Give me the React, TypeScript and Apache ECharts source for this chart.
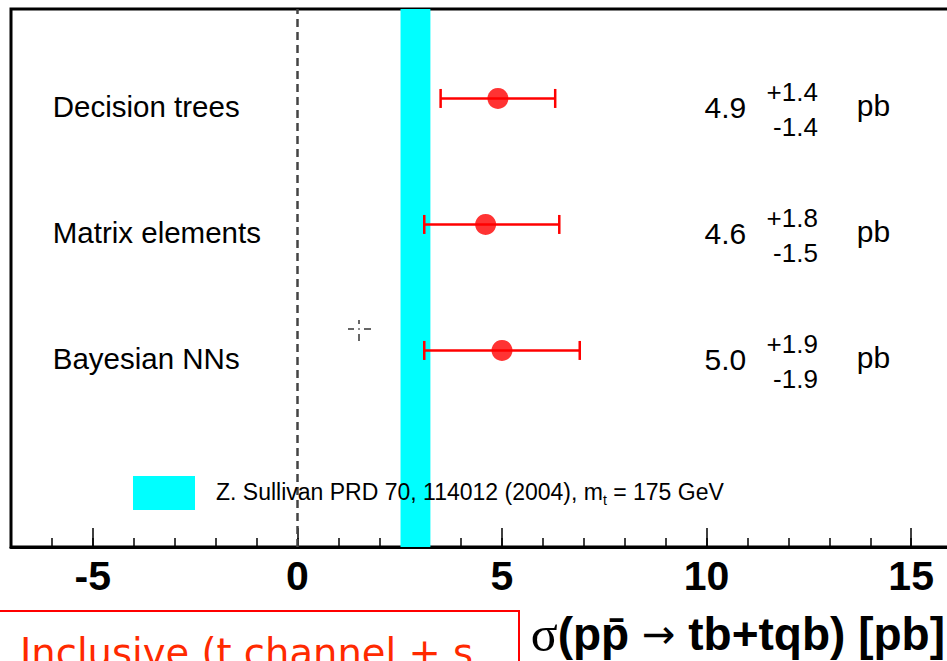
import React, { useEffect, useRef } from 'react';
import * as echarts from 'echarts';

// ---- data ----
const methods = ['Decision trees', 'Matrix elements', 'Bayesian NNs'];
const centralValues = [4.9, 4.6, 5.0];
const errorsUp = [1.4, 1.8, 1.9];
const errorsDown = [1.4, 1.5, 1.9];
const rowPositions = [3.56, 2.56, 1.56];
const theoryBand = [2.52, 3.25];
const majorTickValues = [-5, 0, 5, 10, 15];
const minorTickValues = [-7, -6, -5, -4, -3, -2, -1, 0, 1, 2, 3, 4, 5, 6, 7, 8, 9, 10, 11, 12, 13, 14, 15, 16, 17];
const xRange = [-7, 17];
const yRange = [0, 4.27];
const legendLabel = 'Z. Sullivan PRD 70, 114012 (2004), m';
const legendSub = 't';
const legendTail = ' = 175 GeV';
const unitLabel = 'pb';
const noteText = 'Inclusive (t channel + s';

const SANS = '"Liberation Sans", Arial, Helvetica, sans-serif';

const fmt = (v: number) => v.toFixed(1);

export default function App() {
  const ref = useRef<HTMLDivElement>(null);

  useEffect(() => {
    if (!ref.current) return;
    const chart = echarts.init(ref.current, undefined, { renderer: 'svg' });

    const errData = centralValues.map((c, i) => [c - errorsDown[i], c + errorsUp[i], rowPositions[i]]);
    const pointData = centralValues.map((c, i) => [c, rowPositions[i]]);
    const labelData = rowPositions.map((y, i) => [0, y, i]);

    const option: any = {
      animation: false,
      grid: {
        left: 11, top: 9, right: 7, bottom: 114,
        show: true, borderColor: '#000', borderWidth: 3, backgroundColor: 'transparent',
      },
      xAxis: [
        {
          type: 'value', min: xRange[0], max: xRange[1], position: 'bottom',
          axisLine: { show: true, onZero: false, lineStyle: { color: '#000', width: 3 } },
          axisTick: { show: true, inside: true, length: 19, customValues: majorTickValues, lineStyle: { color: '#000', width: 1.5 } },
          axisLabel: {
            show: true, customValues: majorTickValues, fontSize: 41, fontWeight: 'bold',
            color: '#000', fontFamily: SANS, margin: 8,
          },
          splitLine: { show: false },
        },
        {
          type: 'value', min: xRange[0], max: xRange[1], position: 'bottom',
          axisLine: { show: false, onZero: false },
          axisTick: { show: true, inside: true, length: 9, customValues: minorTickValues, lineStyle: { color: '#000', width: 1.5 } },
          axisLabel: { show: false },
          splitLine: { show: false },
        },
      ],
      yAxis: {
        type: 'value', min: yRange[0], max: yRange[1],
        axisLine: { show: false }, axisTick: { show: false }, axisLabel: { show: false }, splitLine: { show: false },
      },
      series: [
        {
          type: 'custom',
          name: 'band',
          xAxisIndex: 0,
          z: 1,
          silent: true,
          encode: { x: [0, 1] },
          data: [[theoryBand[0], theoryBand[1]]],
          renderItem: (params: any, api: any) => {
            const p1 = api.coord([api.value(0), yRange[1]]);
            const p2 = api.coord([api.value(1), yRange[0]]);
            return {
              type: 'rect',
              shape: { x: p1[0], y: p1[1], width: p2[0] - p1[0], height: p2[1] - p1[1] },
              style: { fill: '#00ffff' },
            };
          },
          markLine: {
            silent: true,
            symbol: 'none',
            label: { show: false },
            lineStyle: { type: [8, 5], color: '#444', width: 2.5 },
            data: [{ xAxis: 0 }],
          },
        },
        {
          type: 'custom',
          name: 'errors',
          xAxisIndex: 0,
          z: 3,
          silent: true,
          encode: { x: [0, 1], y: 2 },
          data: errData,
          renderItem: (params: any, api: any) => {
            const a = api.coord([api.value(0), api.value(2)]);
            const b = api.coord([api.value(1), api.value(2)]);
            const h = 9.5;
            const st = { stroke: '#ff0000', lineWidth: 2.5 };
            return {
              type: 'group',
              children: [
                { type: 'line', shape: { x1: a[0], y1: a[1], x2: b[0], y2: b[1] }, style: st },
                { type: 'line', shape: { x1: a[0], y1: a[1] - h, x2: a[0], y2: a[1] + h }, style: st },
                { type: 'line', shape: { x1: b[0], y1: b[1] - h, x2: b[0], y2: b[1] + h }, style: st },
              ],
            };
          },
        },
        {
          type: 'scatter',
          name: 'points',
          z: 4,
          silent: true,
          symbol: 'circle',
          symbolSize: 21,
          itemStyle: { color: '#ff0000' },
          data: pointData,
        },
        {
          type: 'custom',
          name: 'labels',
          z: 5,
          silent: true,
          encode: { y: 1 },
          data: labelData,
          renderItem: (params: any, api: any) => {
            const y = api.value(1);
            const i = api.value(2);
            const nameP = api.coord([-5.98, y]);
            const valP = api.coord([10.97, y]);
            const errP = api.coord([12.72, y]);
            const unitP = api.coord([13.67, y]);
            const base = { fill: '#000', fontFamily: SANS };
            return {
              type: 'group',
              children: [
                { type: 'text', x: nameP[0], y: nameP[1] + 8, style: { ...base, text: methods[i], fontSize: 29.5, align: 'left', verticalAlign: 'middle' } },
                { type: 'text', x: valP[0], y: valP[1] + 9, style: { ...base, text: fmt(centralValues[i]), fontSize: 30, align: 'right', verticalAlign: 'middle' } },
                { type: 'text', x: errP[0], y: errP[1] - 6, style: { ...base, text: '+' + fmt(errorsUp[i]), fontSize: 26, align: 'right', verticalAlign: 'middle' } },
                { type: 'text', x: errP[0], y: errP[1] + 29, style: { ...base, text: '-' + fmt(errorsDown[i]), fontSize: 26, align: 'right', verticalAlign: 'middle' } },
                { type: 'text', x: unitP[0], y: unitP[1] + 7, style: { ...base, text: unitLabel, fontSize: 30, align: 'left', verticalAlign: 'middle' } },
              ],
            };
          },
        },
      ],
      graphic: [
        { type: 'rect', z: 10, shape: { x: 133, y: 476, width: 62, height: 34 }, style: { fill: '#00ffff' } },
        {
          type: 'text', z: 10, x: 216, y: 492,
          style: {
            text: '{a|' + legendLabel + '}{s|' + legendSub + '}{a|' + legendTail + '}',
            align: 'left', verticalAlign: 'middle',
            rich: {
              a: { fontSize: 23, fontFamily: SANS, fill: '#000', lineHeight: 30, verticalAlign: 'middle' },
              s: { fontSize: 14, fontFamily: SANS, fill: '#000', lineHeight: 14, verticalAlign: 'bottom' },
            },
          },
        },
        {
          type: 'text', z: 10, x: 945, y: 634,
          style: {
            text: '{s|σ}{b|(pp\u0304 }{r|→}{b| tb+tqb) [pb]}',
            align: 'right', verticalAlign: 'middle',
            rich: {
              s: { fontSize: 50, fontFamily: '"Liberation Serif", "DejaVu Serif", serif', fill: '#000', lineHeight: 54 },
              b: { fontSize: 46, fontWeight: 'bold', fontFamily: SANS, fill: '#000', lineHeight: 54 },
              r: { fontSize: 40, fontFamily: '"DejaVu Sans", sans-serif', fill: '#000', lineHeight: 54 },
            },
          },
        },
        { type: 'rect', z: 10, shape: { x: -2, y: 611, width: 521, height: 100 }, style: { fill: 'none', stroke: '#ff0000', lineWidth: 2 } },
        {
          type: 'text', z: 10, x: 20, y: 652,
          style: { text: noteText, fontSize: 38.5, fontFamily: '"DejaVu Sans", sans-serif', fill: '#ff2a00', align: 'left', verticalAlign: 'middle' },
        },
        {
          type: 'group', z: 10, x: 359, y: 329,
          children: [
            { type: 'line', shape: { x1: -11, y1: 0, x2: -5, y2: 0 }, style: { stroke: '#333', lineWidth: 1.5 } },
            { type: 'line', shape: { x1: 5, y1: 0, x2: 12, y2: 0 }, style: { stroke: '#333', lineWidth: 1.5 } },
            { type: 'line', shape: { x1: 0, y1: -9, x2: 0, y2: -5 }, style: { stroke: '#333', lineWidth: 1.5 } },
            { type: 'line', shape: { x1: 0, y1: 5, x2: 0, y2: 12 }, style: { stroke: '#333', lineWidth: 1.5 } },
            { type: 'rect', shape: { x: -0.75, y: -0.75, width: 1.5, height: 1.5 }, style: { fill: '#333' } },
          ],
        },
      ],
    };

    chart.setOption(option);
    return () => chart.dispose();
  }, []);

  return (
    <div style={{ position: 'fixed', left: 0, top: 0, width: 947, height: 661, overflow: 'hidden', background: '#fff' }}>
      <div ref={ref} style={{ width: 1000, height: 661 }} />
    </div>
  );
}
